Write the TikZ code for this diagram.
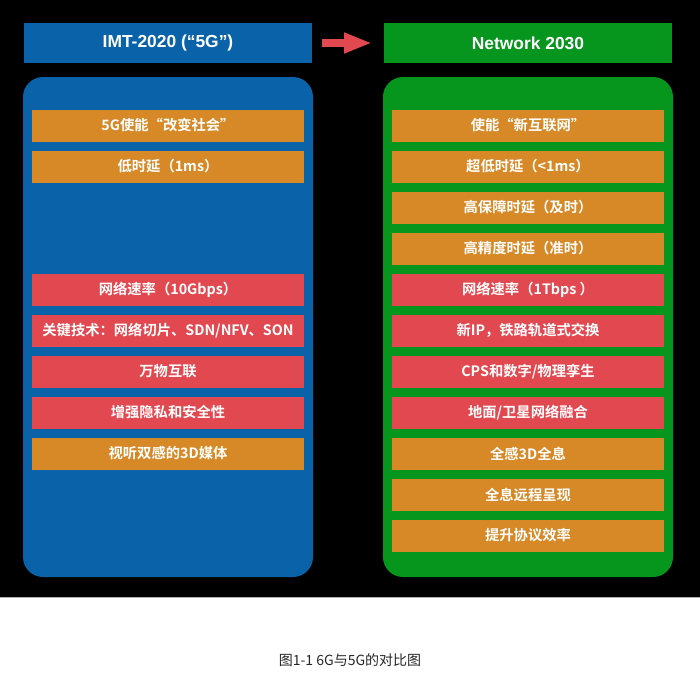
\documentclass[tikz,border=0pt]{standalone}
\usepackage{fontspec}
\setsansfont{Liberation Sans}
\newfontfamily\cjk{Noto Sans CJK SC}[BoldFont={Noto Sans CJK SC Bold}]
\usetikzlibrary{arrows.meta, positioning}

\definecolor{cBlue}{RGB}{10,99,168}
\definecolor{cGreen}{RGB}{6,150,30}
\definecolor{cAmber}{RGB}{214,137,38}
\definecolor{cRose}{RGB}{226,72,80}

\begin{document}
\begin{tikzpicture}[
    x=1pt, y=-1pt,
    panel/.style ={rounded corners=20pt, minimum width=290pt, minimum height=500pt,
                   inner sep=0pt, outer sep=0pt},
    title/.style ={minimum width=288pt, minimum height=40pt, inner sep=0pt, outer sep=0pt,
                   text=white, font=\sffamily\bfseries\fontsize{17.4}{20}\selectfont},
    item/.style  ={minimum width=272pt, minimum height=32pt, inner sep=0pt, outer sep=0pt,
                   text=white, font=\cjk\bfseries\fontsize{14.3}{16}\selectfont},
    amber/.style ={item, fill=cAmber},
    rose/.style  ={item, fill=cRose},
    bigarrow/.style={-{Triangle[length=28pt, width=19pt]}, line width=8pt, draw=cRose,
                   shorten <=10pt, shorten >=12pt},
]
\useasboundingbox (0,0) rectangle (700,677);

% ── Background ─────────────────────────────────────────────────────────
\fill[black] (0,0) rectangle (700,598);
\draw[gray!60, line width=1pt] (0,597.5) -- (700,597.5);

% ── Panels ─────────────────────────────────────────────────────────────
\node[panel, fill=cBlue]  (lpanel) at (168,327) {};
\node[panel, fill=cGreen] (rpanel) at (528,327) {};

% ── Titles ─────────────────────────────────────────────────────────────
\node[title, fill=cBlue,  above=14pt of lpanel] (imt) {IMT-2020 (“5G”)};
\node[title, fill=cGreen, above=14pt of rpanel] (net) {Network 2030};

% ── IMT-2020 items ─────────────────────────────────────────────────────
\node[amber, below=32.5pt of lpanel.north] (l1) {5G使能“改变社会”};
\node[amber, below=9pt of l1]  (l2) {低时延（1ms）};
\node[rose,  below=91pt of l2] (l3) {网络速率（10Gbps）};
\node[rose,  below=9pt of l3]  (l4) {关键技术：网络切片、SDN/NFV、SON};
\node[rose,  below=9pt of l4]  (l5) {万物互联};
\node[rose,  below=9pt of l5]  (l6) {增强隐私和安全性};
\node[amber, below=9pt of l6]  (l7) {视听双感的3D媒体};

% ── Network 2030 items ─────────────────────────────────────────────────
\node[amber, below=32.5pt of rpanel.north] (r1) {使能“新互联网”};
\node[amber, below=9pt of r1]  (r2)  {超低时延（<1ms）};
\node[amber, below=9pt of r2]  (r3)  {高保障时延（及时）};
\node[amber, below=9pt of r3]  (r4)  {高精度时延（准时）};
\node[rose,  below=9pt of r4]  (r5)  {网络速率（1Tbps ）};
\node[rose,  below=9pt of r5]  (r6)  {新IP，铁路轨道式交换};
\node[rose,  below=9pt of r6]  (r7)  {CPS和数字/物理孪生};
\node[rose,  below=9pt of r7]  (r8)  {地面/卫星网络融合};
\node[amber, below=9pt of r8]  (r9)  {全感3D全息};
\node[amber, below=9pt of r9]  (r10) {全息远程呈现};
\node[amber, below=9pt of r10] (r11) {提升协议效率};

% ── Arrow ──────────────────────────────────────────────────────────────
\draw[bigarrow] (imt) -- (net);

% ── Caption ────────────────────────────────────────────────────────────
\node[font=\cjk\fontsize{14}{16}\selectfont, text=black!85] (caption) at (350,660)
      {图1-1 6G与5G的对比图};

\end{tikzpicture}
\end{document}
